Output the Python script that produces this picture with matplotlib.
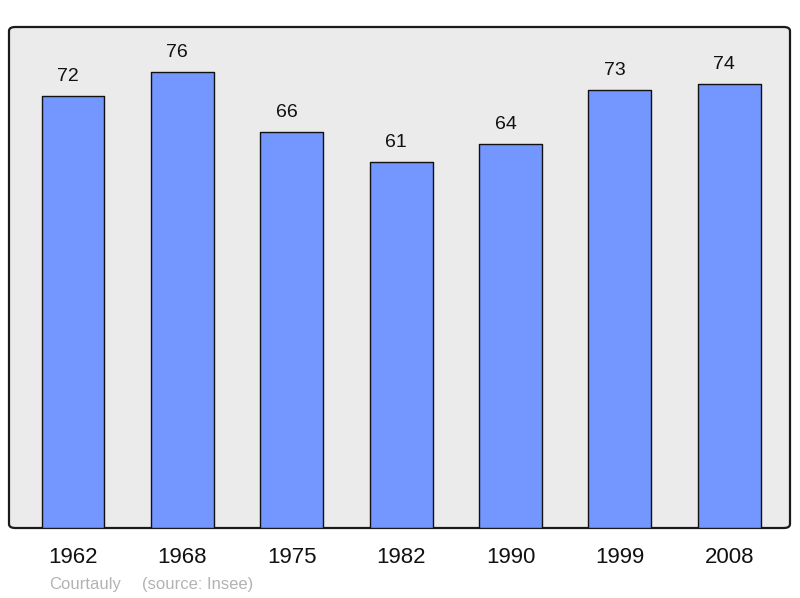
import matplotlib
matplotlib.use("Agg")
import matplotlib.pyplot as plt
from matplotlib.patches import FancyBboxPatch

years = ["1962", "1968", "1975", "1982", "1990", "1999", "2008"]
population = [72, 76, 66, 61, 64, 73, 74]

plt.rcParams['font.family'] = ['Liberation Sans', 'DejaVu Sans']

fig = plt.figure(figsize=(8, 5.98), dpi=100)
ax = fig.add_axes([9/800, (598-528)/598, (790-9)/800, (528-27)/598])
ax.set_facecolor('none')

bg = FancyBboxPatch((0, 0), 1, 1, boxstyle="round,pad=0,rounding_size=0.008",
                    transform=ax.transAxes, facecolor='#ebebeb', edgecolor='#1a1a1a',
                    linewidth=1.6, zorder=0, clip_on=False)
ax.add_patch(bg)

x = list(range(len(years)))
bars = ax.bar(x, population, width=0.575, color='#7396ff', edgecolor='#111111',
              linewidth=1.0, zorder=2)
for b in bars:
    b.set_joinstyle('round')

for xi, v in zip(x, population):
    ax.annotate(str(v), (xi, v), xytext=(-3.6, 14), textcoords='offset points',
                ha='center', va='center', fontsize=14, color='#111111')

ax.set_xlim(-0.585, 6.555)
ax.set_ylim(0, 83.5)
for s in ax.spines.values():
    s.set_visible(False)
ax.set_yticks([])
ax.set_xticks(x)
ax.set_xticklabels(years, fontsize=16, color='#111111')
ax.tick_params(axis='x', length=0, pad=14)

fig.text(49/800, 1 - 584/598, "Courtauly", fontsize=12, color='#b3b3b3', va='center', ha='left')
fig.text(142/800, 1 - 584/598, "(source: Insee)", fontsize=12, color='#b3b3b3', va='center', ha='left')

fig.savefig("out.png", dpi=100)
